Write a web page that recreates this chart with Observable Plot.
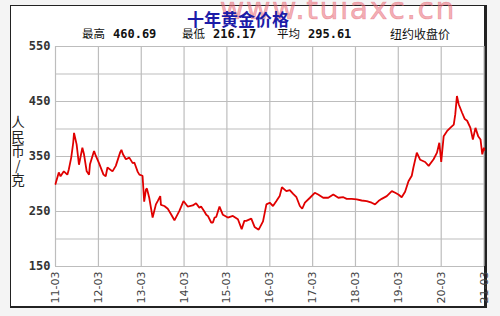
<!DOCTYPE html>
<html>
<head>
<meta charset="utf-8">
<script src="https://cdn.jsdelivr.net/npm/d3@7"></script>
<script src="https://cdn.jsdelivr.net/npm/@observablehq/plot@0.6"></script>
<style>
  html, body { margin: 0; padding: 0; background: #f4f4f4; }
  #wrap { position: relative; width: 500px; height: 316px; overflow: hidden; }
  #box { position: absolute; left: 10px; top: 5px; width: 473px; height: 300px; background: #fff;
         border-left: 1px solid #222; border-top: 1px solid #222; border-right: 3px solid #222; border-bottom: 2px solid #222; }
  #chart { position: absolute; left: 0; top: 0; }
  .txt { position: absolute; white-space: nowrap; }
  .cjk { font-family: "Noto Sans CJK SC", sans-serif; }
  .num { font-family: "DejaVu Sans Mono", monospace; font-weight: bold; }
</style>
</head>
<body>
<div id="wrap">
  <div id="box"></div>
  <div id="chart"></div>
</div>
<script>
// ---- data ----
const title = "十年黄金价格";
const watermark = "www.tuiaxc.cn";
const statLabels = ["最高", "最低", "平均"];
const statValues = ["460.69", "216.17", "295.61"];
const noteLabel = "纽约收盘价";
const yLabel = ["人", "民", "币", "/", "克"];

const dates = [
  "2011-03-01","2011-03-29","2011-04-13","2011-05-11","2011-06-10","2011-06-23","2011-07-13","2011-07-30",
  "2011-08-06","2011-08-28","2011-09-17","2011-10-16","2011-10-30","2011-11-22","2011-12-12","2011-12-20",
  "2012-01-19","2012-01-24","2012-02-08","2012-03-06","2012-04-13","2012-05-02","2012-05-17","2012-06-29",
  "2012-07-27","2012-09-03","2012-09-13","2012-09-26","2012-10-21","2012-11-19","2012-12-18","2013-01-01",
  "2013-01-30","2013-02-13","2013-03-12","2013-03-26","2013-04-10","2013-04-18","2013-05-08","2013-06-06",
  "2013-07-04","2013-07-19","2013-08-10","2013-08-16","2013-09-14","2013-10-13","2013-11-10","2013-12-09",
  "2014-01-20","2014-02-24","2014-04-01","2014-05-14","2014-06-11","2014-07-09","2014-07-24","2014-08-21",
  "2014-09-06","2014-09-20","2014-10-18","2014-11-02","2014-11-16","2014-11-30","2014-12-28","2015-01-26",
  "2015-03-09","2015-04-21","2015-06-03","2015-07-05","2015-07-28","2015-08-13","2015-09-25","2015-10-23",
  "2015-11-27","2016-01-03","2016-02-01","2016-02-29","2016-03-28","2016-04-26","2016-05-24","2016-06-12",
  "2016-07-20","2016-08-18","2016-09-16","2016-10-14","2016-11-12","2016-12-02","2016-12-25","2017-02-06",
  "2017-03-19","2017-04-17","2017-05-30","2017-07-12","2017-08-24","2017-10-06","2017-11-18","2017-12-16",
  "2018-01-28","2018-03-11","2018-04-23","2018-06-05","2018-07-17","2018-08-15","2018-09-13","2018-10-11",
  "2018-11-23","2019-01-05","2019-02-03","2019-03-02","2019-03-30","2019-04-28","2019-05-27","2019-06-24",
  "2019-07-08","2019-08-06","2019-09-04","2019-10-16","2019-11-15","2019-12-27","2020-01-25","2020-02-14",
  "2020-03-01","2020-03-22","2020-04-19","2020-05-17","2020-06-16","2020-06-29","2020-07-13","2020-07-28",
  "2020-08-25","2020-09-18","2020-10-08","2020-11-05","2020-11-26","2020-12-18","2021-01-10","2021-01-30",
  "2021-02-14","2021-02-28","2021-03-04"
];
const prices = [
  300,321,314,323,317,327,348,375,
  393,372,335,366,354,323,317,336,
  357,360,351,338,317,314,330,323,
  333,358,362,354,345,348,338,339,
  322,317,315,268,290,292,275,239,
  263,269,278,262,260,255,245,234,
  251,269,259,261,265,257,259,250,
  244,242,230,230,239,240,259,244,
  239,242,236,218,233,233,237,222,
  217,232,263,266,260,269,278,294,
  287,289,282,276,260,255,266,275,
  284,281,275,275,281,275,276,273,
  273,272,270,269,266,263,269,273,
  278,287,284,281,276,286,305,315,
  330,357,344,340,333,345,357,375,
  340,387,396,402,408,427,460,445,
  430,418,415,402,381,402,387,381,
  354,366,362
];

const xTickDates = ["2011-03-01","2012-03-01","2013-03-01","2014-03-01","2015-03-01","2016-03-01",
                    "2017-03-01","2018-03-01","2019-03-01","2020-03-01","2021-03-01"];
const xTickLabels = ["11-03","12-03","13-03","14-03","15-03","16-03","17-03","18-03","19-03","20-03","21-03"];
const yTicks = [150, 250, 350, 450, 550];
const yGrid = [150, 200, 250, 300, 350, 400, 450, 500, 550];

// ---- build ----
const data = dates.map((d, i) => ({date: new Date(d), price: prices[i]}));
const xTicks = xTickDates.map(d => new Date(d));
const labelByTime = new Map(xTicks.map((d, i) => [+d, xTickLabels[i]]));

const chart = Plot.plot({
  width: 500,
  height: 316,
  marginTop: 46,
  marginBottom: 50,
  marginLeft: 55,
  marginRight: 16,
  style: {background: "transparent", overflow: "visible"},
  x: {type: "utc", domain: [new Date("2011-03-01"), new Date("2021-03-05")]},
  y: {domain: [150, 550]},
  marks: [
    Plot.gridY(yGrid, {stroke: "#bdbdbd", strokeOpacity: 1, strokeWidth: 1.2}),
    Plot.gridX(xTicks, {stroke: "#bdbdbd", strokeOpacity: 1, strokeWidth: 1.2}),
    Plot.axisY(yTicks, {tickSize: 0, tickPadding: 5, label: null, fill: "#333",
      fontFamily: "DejaVu Sans Mono", fontWeight: "bold", fontSize: 12}),
    Plot.axisX(xTicks, {tickSize: 0, tickPadding: 5, tickRotate: -90, label: null, fill: "#444",
      fontFamily: "DejaVu Sans", fontSize: 11, tickFormat: d => labelByTime.get(+d)}),
    Plot.lineY(data, {x: "date", y: "price", stroke: "#e00000", strokeWidth: 1.8, strokeLinejoin: "miter"})
  ]
});
document.getElementById("chart").appendChild(chart);

// ---- texts ----
const wrap = document.getElementById("wrap");
function addText(str, css, cls) {
  const el = document.createElement("div");
  el.className = "txt " + (cls || "");
  el.textContent = str;
  Object.assign(el.style, css);
  wrap.appendChild(el);
  return el;
}
// watermark
addText(watermark, {right: "44px", top: "-9px", fontFamily: "DejaVu Sans", fontSize: "30px",
  letterSpacing: "1.5px", color: "rgba(232,105,118,0.55)", webkitTextStroke: "0.6px rgba(232,105,118,0.55)"});
// title
addText(title, {left: "187px", top: "6px", fontSize: "17px", fontWeight: "bold", color: "#1c1ca8"}, "cjk");
// stats
const statX = [82, 182, 277];
statLabels.forEach((s, i) => {
  addText(s, {left: statX[i] + "px", top: "25px", fontSize: "11.5px", color: "#111"}, "cjk");
  addText(statValues[i], {left: (statX[i] + 31) + "px", top: "27px", fontSize: "12px", color: "#111"}, "num");
});
addText(noteLabel, {left: "390px", top: "25px", fontSize: "12px", color: "#111"}, "cjk");
// y label, stacked
yLabel.forEach((c, i) => {
  addText(c, {left: "11px", width: "14px", textAlign: "center", top: (114 + i * 14.5) + "px",
    fontSize: "13.5px", lineHeight: "14px", color: "#222"}, "cjk");
});
</script>
</body>
</html>
